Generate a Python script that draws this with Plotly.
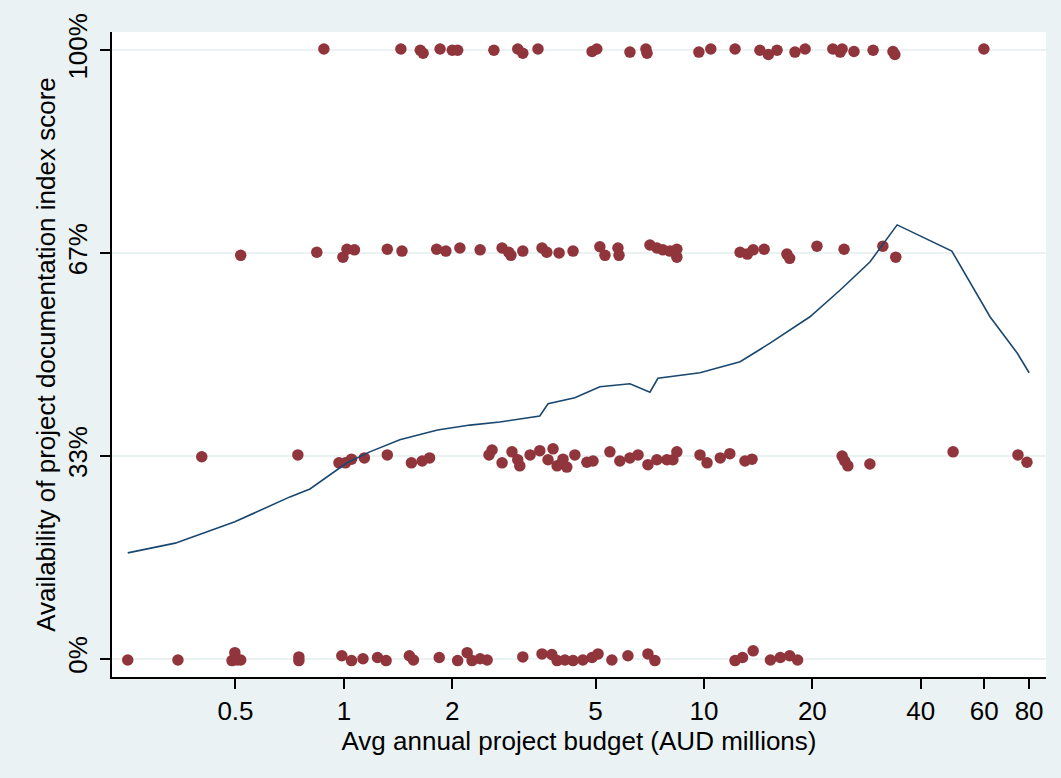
import plotly.graph_objects as go

# ---- data ----
# score = 100%
x100 = [0.880, 1.44, 1.63, 1.66, 1.85, 2.00, 2.07, 2.61, 3.04, 3.14, 3.46, 4.89, 5.04,
        6.23, 6.90, 6.95, 9.68, 10.45, 12.2, 14.3, 15.1, 15.96, 17.9, 19.1, 22.8, 23.9,
        24.2, 26.1, 29.5, 33.5, 33.9, 59.9]
y100 = [1.002, 1.002, 1.0, 0.995, 1.002, 1.0, 1.0, 1.0, 1.002, 0.995, 1.002, 0.998, 1.002,
        0.997, 1.002, 0.995, 0.997, 1.002, 1.002, 1.0, 0.993, 1.0, 0.997, 1.002, 1.002, 0.997,
        1.002, 0.998, 1.0, 0.998, 0.993, 1.002]
# score = 67%
x67 = [0.517, 0.841, 0.994, 1.02, 1.07, 1.32, 1.45, 1.81, 1.92, 2.10, 2.39, 2.75, 2.87,
       2.91, 3.14, 3.55, 3.66, 3.96, 4.33, 5.14, 5.31, 5.77, 5.81, 7.08, 7.40, 7.69, 8.05,
       8.41, 8.41, 12.6, 13.2, 13.7, 14.7, 17.0, 17.3, 20.6, 24.5, 31.4, 34.1]
y67 = [0.663, 0.668, 0.660, 0.673, 0.672, 0.673, 0.670, 0.673, 0.670, 0.675, 0.672, 0.675, 0.668,
       0.663, 0.670, 0.675, 0.668, 0.667, 0.670, 0.677, 0.663, 0.675, 0.663, 0.680, 0.675, 0.672, 0.670,
       0.673, 0.660, 0.668, 0.665, 0.672, 0.673, 0.665, 0.658, 0.678, 0.673, 0.678, 0.660]
# score = 33%
x33 = [0.403, 0.745, 0.969, 1.01, 1.05, 1.14, 1.32, 1.54, 1.65, 1.73, 2.53, 2.58, 2.75,
       2.93, 3.04, 3.08, 3.29, 3.50, 3.69, 3.81, 3.91, 4.06, 4.16, 4.38, 4.73, 4.92, 5.48,
       5.84, 6.23, 6.56, 6.99, 7.40, 7.89, 8.20, 8.41, 9.75, 10.2, 11.1, 11.8, 13.0, 13.6,
       24.2, 24.6, 25.1, 28.9, 49.2, 74.5, 78.9]
y33 = [0.332, 0.335, 0.322, 0.322, 0.328, 0.330, 0.335, 0.322, 0.325, 0.330, 0.335, 0.343, 0.322,
       0.340, 0.327, 0.317, 0.335, 0.342, 0.327, 0.345, 0.317, 0.328, 0.315, 0.335, 0.323, 0.325, 0.340,
       0.325, 0.330, 0.335, 0.319, 0.327, 0.327, 0.327, 0.340, 0.335, 0.322, 0.330, 0.337, 0.325, 0.328,
       0.333, 0.325, 0.317, 0.320, 0.340, 0.335, 0.323]
# score = 0%
x0 = [0.251, 0.346, 0.489, 0.498, 0.505, 0.517, 0.750, 0.750, 0.987, 1.05, 1.13, 1.24, 1.31,
      1.52, 1.56, 1.84, 2.07, 2.20, 2.27, 2.39, 2.50, 3.14, 3.55, 3.78, 3.91, 4.11, 4.33,
      4.61, 4.89, 5.08, 5.55, 6.15, 6.99, 7.31, 12.2, 12.8, 13.7, 15.3, 16.3, 17.3, 18.2]
y0 = [-0.002, -0.002, -0.003, 0.010, -0.002, -0.002, 0.003, -0.003, 0.005, -0.003, 0.0, 0.002, -0.003,
      0.005, -0.002, 0.002, -0.003, 0.010, -0.003, 0.0, -0.002, 0.003, 0.008, 0.007, -0.003, -0.002, -0.003,
      -0.002, 0.002, 0.008, -0.002, 0.005, 0.008, -0.003, -0.003, 0.002, 0.013, -0.002, 0.002, 0.005, -0.002]

# lowess smoother
lowess_x = [0.251, 0.340, 0.498, 0.708, 0.805, 1.02, 1.18, 1.43, 1.82, 2.24, 2.71, 3.50, 3.69,
            4.38, 5.14, 6.23, 7.08, 7.45, 9.75, 12.6, 15.3, 19.7, 23.9, 28.9, 34.4, 48.8,
            62.3, 74.2, 80.0]
lowess_y = [0.174, 0.190, 0.225, 0.266, 0.279, 0.322, 0.340, 0.360, 0.376, 0.384, 0.389, 0.399, 0.419,
            0.429, 0.447, 0.452, 0.438, 0.461, 0.470, 0.488, 0.519, 0.562, 0.606, 0.652, 0.713, 0.670,
            0.562, 0.502, 0.470]

x_tickvals = [0.5, 1, 2, 5, 10, 20, 40, 60, 80]
x_ticktext = ["0.5", "1", "2", "5", "10", "20", "40", "60", "80"]
y_tickvals = [0, 1 / 3, 2 / 3, 1]
y_ticktext = ["0%", "33%", "67%", "100%"]

pts_x = x100 + x67 + x33 + x0
pts_y = y100 + y67 + y33 + y0

FONT = "Liberation Sans, Arial, sans-serif"
BG = "#EAF2F3"
FS = 26

fig = go.Figure()
fig.add_trace(go.Scatter(
    x=pts_x, y=pts_y, mode="markers",
    marker=dict(color="#90353B", size=11.5, line=dict(width=0)),
    showlegend=False, hoverinfo="skip"))
fig.add_trace(go.Scatter(
    x=lowess_x, y=lowess_y, mode="lines",
    line=dict(color="#1A476F", width=1.6),
    showlegend=False, hoverinfo="skip"))

fig.update_layout(
    width=1061, height=778,
    margin=dict(l=112, r=15, t=32, b=101),
    paper_bgcolor=BG, plot_bgcolor="white",
    font=dict(family=FONT, size=FS, color="black"),
    showlegend=False,
)
fig.update_xaxes(
    type="log", range=[-0.644, 1.95], automargin=False,
    tickvals=x_tickvals, ticktext=x_ticktext,
    showgrid=False, zeroline=False,
    showline=True, linecolor="black", linewidth=1.5,
    ticks="outside", ticklen=10, tickwidth=1.5, tickcolor="black",
    tickfont=dict(size=FS),
    title=dict(text="Avg annual project budget (AUD millions)", font=dict(size=FS), standoff=0),
)
fig.update_yaxes(
    range=[-0.030, 1.030], automargin=False,
    tickvals=y_tickvals, ticktext=y_ticktext, tickangle=-90,
    ticklabelstandoff=3,
    showgrid=True, gridcolor=BG, gridwidth=1.5,
    zeroline=False,
    showline=True, linecolor="black", linewidth=1.5,
    ticks="outside", ticklen=10, tickwidth=1.5, tickcolor="black",
    tickfont=dict(size=FS),
    title=dict(text="Availability of project documentation index score", font=dict(size=FS), standoff=0),
)

fig.write_html(
    "out.html",
    config={"displayModeBar": False},
    post_script="document.body.style.margin='0';document.body.style.background='%s';" % BG,
)
